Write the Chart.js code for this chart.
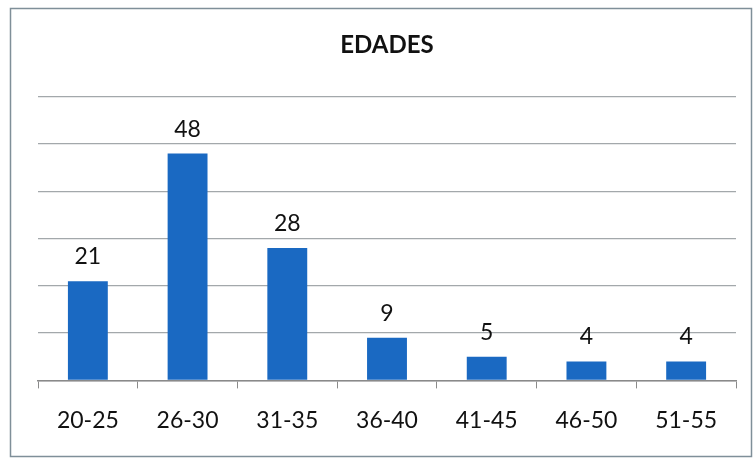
<!DOCTYPE html>
<html>
<head>
<meta charset="utf-8">
<script src="https://cdn.jsdelivr.net/npm/chart.js@4"></script>
<style>
html,body{margin:0;padding:0;background:#fff;}
#wrap{width:755px;height:460px;position:relative;}
</style>
</head>
<body>
<div id="wrap"><canvas id="c"></canvas></div>
<script>
const labels = ['20-25','26-30','31-35','36-40','41-45','46-50','51-55'];
const values = [21,48,28,9,5,4,4];
const yTicks = [0,10,20,30,40,50,60];

Chart.defaults.font.family="'Lato','Open Sans',sans-serif";

// frame + value labels
const frame = {
  id:'frame',
  beforeDraw(ch){
    const c=ch.ctx;
    c.save();
    c.fillStyle='#fff';c.fillRect(0,0,ch.width,ch.height);
    c.strokeStyle='#7f8f99';c.lineWidth=1.5;
    c.strokeRect(10.5,8.5,741,448);
    c.restore();
  }
};
const valueLabels = {
  id:'valueLabels',
  afterDatasetsDraw(ch){
    const c=ch.ctx;
    c.save();
    c.font="23px 'Lato','Open Sans',sans-serif";
    c.fillStyle='#111';
    c.textAlign='center';c.textBaseline='alphabetic';
    ch.getDatasetMeta(0).data.forEach((b,i)=>{
      c.fillText(values[i],b.x,b.y-17);
    });
    c.restore();
  }
};

new Chart(document.getElementById('c'),{
  type:'bar',
  data:{labels:labels,datasets:[{
    data:values,
    backgroundColor:'#1a69c2',
    borderWidth:0,
    barPercentage:0.4,categoryPercentage:1
  }]},
  options:{
    responsive:true,maintainAspectRatio:false,animation:false,
    layout:{padding:{left:38,right:19,bottom:8,top:0}},
    plugins:{
      legend:{display:false},
      tooltip:{enabled:false},
      title:{display:true,text:'EDADES',color:'#111',
        font:{size:24,weight:'bold'},padding:{top:31,bottom:37}}
    },
    scales:{
      x:{
        offset:true,
        grid:{drawOnChartArea:false,drawTicks:true,tickLength:8,color:'#8a8a8a',offset:true},
        border:{color:'#8a8a8a',width:1.5},
        ticks:{color:'#111',font:{size:23},padding:18}
      },
      y:{
        min:0,max:60,
        afterBuildTicks:s=>{s.ticks=yTicks.map(v=>({value:v}));},
        grid:{color:'#a3a8ab',drawTicks:false,lineWidth:1.3},
        border:{display:false},
        ticks:{display:false}
      }
    }
  },
  plugins:[frame,valueLabels]
});
</script>
</body>
</html>
